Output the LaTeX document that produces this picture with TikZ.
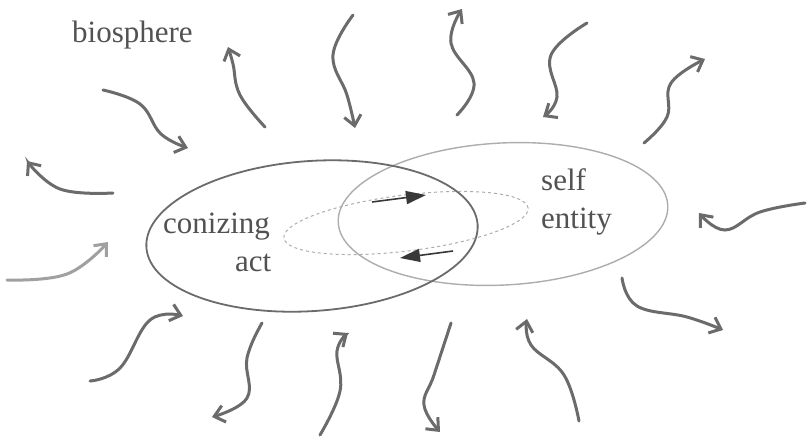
\documentclass[tikz,border=0pt]{standalone}
\usepackage{fontspec}
\setmainfont{Liberation Serif}
\usetikzlibrary{arrows.meta,shapes.geometric}
\definecolor{pencil}{gray}{0.42}
\definecolor{ink}{gray}{0.32}
\definecolor{faint}{gray}{0.68}
\definecolor{dark}{gray}{0.22}
\tikzset{
  wave/.style={draw=pencil, line width=3pt, line cap=round,
    -{Straight Barb[length=10pt,width=17pt,line width=3pt]}},
  inarrow/.style={draw=dark, line width=1.6pt,
    -{Triangle[length=20pt,width=13pt]}},
  lbl/.style={text=ink, font=\fontsize{31}{34}\selectfont, inner sep=0pt, anchor=base west},
  oval/.style={ellipse, inner sep=0pt, outer sep=0pt}
}
\begin{document}
\begin{tikzpicture}[x=1pt,y=-1pt]
\useasboundingbox (0,0) rectangle (808,437);
\fill[white] (0,0) rectangle (808,437);

% ellipses
\node[oval, draw=faint, line width=1.4pt, minimum width=330pt, minimum height=142pt, rotate=3] (self) at (503,214) {};
\node[oval, draw=pencil, line width=1.8pt, minimum width=332pt, minimum height=150pt, rotate=4] (act) at (312,236) {};
\node[oval, draw=faint, line width=1pt, dashed, minimum width=246pt, minimum height=56pt, rotate=7] (thin) at (406,223) {};

% labels
\node[lbl] (bio) at (72,42) {biosphere};
\node[lbl] (coniz) at (163,233) {conizing};
\node[lbl] (actl) at (235,271) {act};
\node[lbl] (selfl) at (541,190) {self};
\node[lbl] (ent) at (541,228) {entity};

% inner arrows
\coordinate (i1a) at (372,202); \coordinate (i1b) at (426,195);
\coordinate (i2a) at (453,251); \coordinate (i2b) at (400,258);
\draw[inarrow] (i1a) -- (i1b);
\draw[inarrow] (i2a) -- (i2b);

% outer wavy arrows
\coordinate (t1) at (103,90);  \coordinate (h1) at (188,148);
\coordinate (t2) at (113,193); \coordinate (h2) at (27,161);
\coordinate (t3) at (265,127); \coordinate (h3) at (228,47);
\coordinate (t4) at (353,15);  \coordinate (h4) at (355,128);
\coordinate (t5) at (457,115); \coordinate (h5) at (462,9);
\coordinate (t6) at (587,23);  \coordinate (h6) at (543,117);
\coordinate (t7) at (644,143); \coordinate (h7) at (705,59);
\coordinate (t8) at (805,203); \coordinate (h8) at (699,213);
\coordinate (t9) at (622,278); \coordinate (h9) at (723,330);
\coordinate (t10) at (579,421); \coordinate (h10) at (527,319);
\coordinate (t11) at (451,323); \coordinate (h11) at (440,432);
\coordinate (t12) at (320,435); \coordinate (h12) at (348,333);
\coordinate (t13) at (262,323); \coordinate (h13) at (212,417);
\coordinate (t14) at (90,381);  \coordinate (h14) at (183,316);
\coordinate (t15) at (7,280);   \coordinate (h15) at (108,242);

\draw[wave] plot[smooth, tension=0.7] coordinates {(t1) (140,104) (161,134) (h1)};
\draw[wave] plot[smooth, tension=0.7] coordinates {(t2) (60,189) (h2)};
\draw[wave] plot[smooth, tension=0.7] coordinates {(t3) (240,95) (233,64) (h3)};
\draw[wave] plot[smooth, tension=0.7] coordinates {(t4) (333,55) (347,95) (h4)};
\draw[wave] plot[smooth, tension=0.7] coordinates {(t5) (474,83) (451,43) (h5)};
\draw[wave] plot[smooth, tension=0.7] coordinates {(t6) (551,55) (557,97) (h6)};
\draw[wave] plot[smooth, tension=0.7] coordinates {(t7) (667,117) (671,83) (h7)};
\draw[wave] plot[smooth, tension=0.7] coordinates {(t8) (760,212) (725,230) (h8)};
\draw[wave] plot[smooth, tension=0.7] coordinates {(t9) (637,306) (687,317) (h9)};
\draw[wave] plot[smooth, tension=0.7] coordinates {(t10) (564,375) (531,345) (h10)};
\draw[wave] plot[smooth, tension=0.7] coordinates {(t11) (434,375) (424,405) (h11)};
\draw[wave] plot[smooth, tension=0.7] coordinates {(t12) (340,391) (337,351) (h12)};
\draw[wave] plot[smooth, tension=0.7] coordinates {(t13) (247,358) (247,398) (h13)};
\draw[wave] plot[smooth, tension=0.7] coordinates {(t14) (120,368) (150,320) (h14)};
\draw[wave, draw=faint!80!pencil] plot[smooth, tension=0.7] coordinates {(t15) (67,274) (h15)};
\end{tikzpicture}
\end{document}
